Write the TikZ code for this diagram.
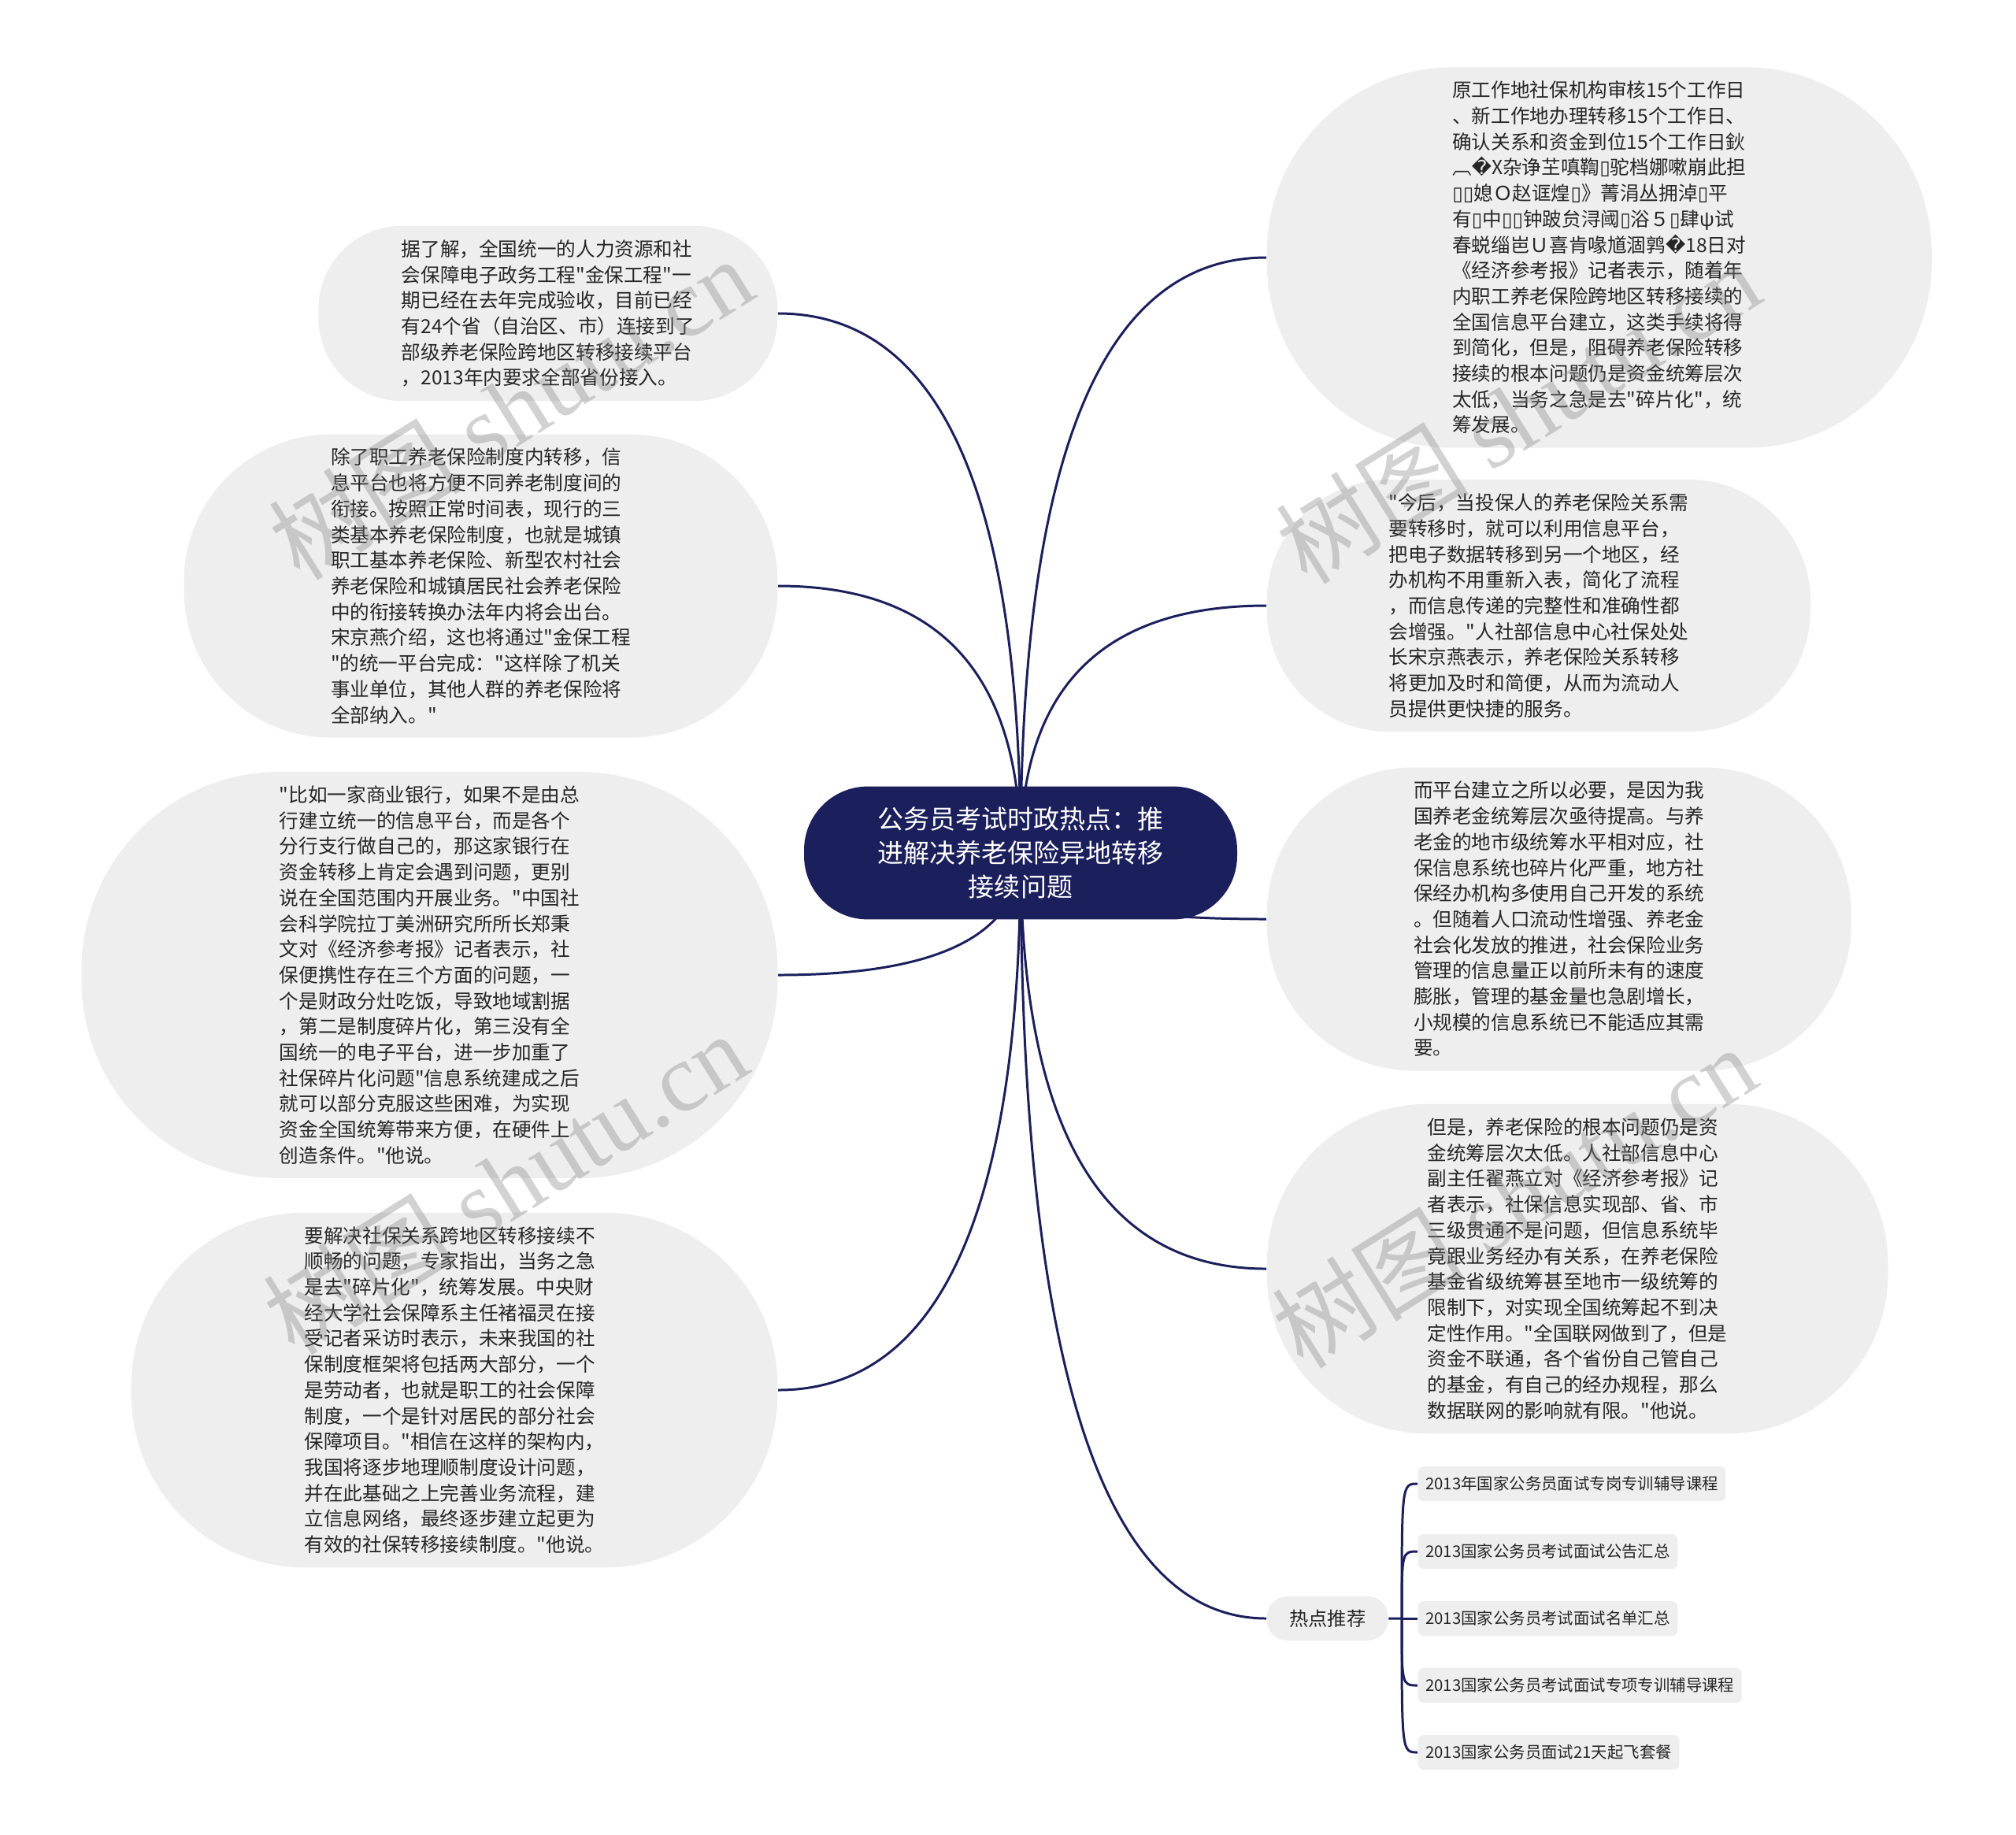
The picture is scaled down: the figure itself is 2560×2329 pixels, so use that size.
\documentclass[tikz,border=0pt]{standalone}
\usepackage{fontspec}
\newfontfamily\cjk{Noto Sans CJK SC}
\newfontfamily\symfont{DejaVu Sans}
\newfontfamily\wmfont{Liberation Serif}
\usetikzlibrary{calc, backgrounds}
\definecolor{cNavy}{RGB}{27,31,92}
\definecolor{cBubble}{RGB}{238,238,238}
\definecolor{cInk}{RGB}{38,38,38}
\newcommand{\tofu}{{\symfont ▯}}
\newcommand{\badch}{{\symfont �}}
\tikzset{
	topic/.style  ={rectangle, rounded corners=23pt, fill=cNavy, text=white, align=center, inner xsep=26.5pt, inner ysep=7pt, minimum height=48pt, font=\cjk\fontsize{9.4}{12.3}\selectfont},
	bubble/.style ={rectangle, rounded corners=#1, fill=cBubble, text=cInk, align=left, inner xsep=#1, inner ysep=5pt, minimum height=2*#1+3pt, font=\cjk\fontsize{7}{9.3}\selectfont},
	hotnode/.style={rectangle, rounded corners=7.5pt, fill=cBubble, text=cInk, inner xsep=8.1pt, minimum height=16pt, font=\cjk\fontsize{6.9}{8}\selectfont},
	leaf/.style   ={rectangle, rounded corners=2pt, fill=cBubble, text=cInk, inner xsep=2.7pt, minimum height=12.5pt, font=\cjk\fontsize{5.8}{7}\selectfont},
	% connectors
	branch/.style ={draw=cNavy, line width=0.85pt, to path={.. controls ($(\tikztostart)!0.667!(\tikztostart |- \tikztotarget)$) and ($(\tikztotarget)!0.667!(\tikztostart |- \tikztotarget)$) .. (\tikztotarget)}},
	twig/.style   ={draw=cNavy, line width=0.85pt, to path={.. controls (\tikztostart |- \tikztotarget) .. (\tikztotarget)}},
	stamp/.style  ={text=gray, opacity=0.35, rotate=32, font=\cjk\fontsize{35}{35}\selectfont},
}

\begin{document}
\begin{tikzpicture}[x=0.01cm, y=-0.01cm]
	\useasboundingbox (0,0) rectangle (2560,2329);
	% central topic
	\node[topic] (root) at (1296,1083) {公务员考试时政热点：推\\进解决养老保险异地转移\\接续问题};
	\coordinate (hub) at (1296,1083);
	% left branches
	\node[bubble=30pt, anchor=east] (nPlatform) at (988,398) {据了解，全国统一的人力资源和社\\会保障电子政务工程"金保工程"一\\期已经在去年完成验收，目前已经\\有24个省（自治区、市）连接到了\\部级养老保险跨地区转移接续平台\\，2013年内要求全部省份接入。};
	\node[bubble=53pt, anchor=east] (nLink) at (988,744) {除了职工养老保险制度内转移，信\\息平台也将方便不同养老制度间的\\衔接。按照正常时间表，现行的三\\类基本养老保险制度，也就是城镇\\职工基本养老保险、新型农村社会\\养老保险和城镇居民社会养老保险\\中的衔接转换办法年内将会出台。\\宋京燕介绍，这也将通过"金保工程\\"的统一平台完成："这样除了机关\\事业单位，其他人群的养老保险将\\全部纳入。"};
	\node[bubble=71.5pt, anchor=east] (nBank) at (988,1238) {"比如一家商业银行，如果不是由总\\行建立统一的信息平台，而是各个\\分行支行做自己的，那这家银行在\\资金转移上肯定会遇到问题，更别\\说在全国范围内开展业务。"中国社\\会科学院拉丁美洲研究所所长郑秉\\文对《经济参考报》记者表示，社\\保便携性存在三个方面的问题，一\\个是财政分灶吃饭，导致地域割据\\，第二是制度碎片化，第三没有全\\国统一的电子平台，进一步加重了\\社保碎片化问题"信息系统建成之后\\就可以部分克服这些困难，为实现\\资金全国统筹带来方便，在硬件上\\创造条件。"他说。};
	\node[bubble=62.5pt, anchor=east] (nExpert) at (988,1765) {要解决社保关系跨地区转移接续不\\顺畅的问题，专家指出，当务之急\\是去"碎片化"，统筹发展。中央财\\经大学社会保障系主任褚福灵在接\\受记者采访时表示，未来我国的社\\保制度框架将包括两大部分，一个\\是劳动者，也就是职工的社会保障\\制度，一个是针对居民的部分社会\\保障项目。"相信在这样的架构内，\\我国将逐步地理顺制度设计问题，\\并在此基础之上完善业务流程，建\\立信息网络，最终逐步建立起更为\\有效的社保转移接续制度。"他说。};
	% right branches
	\node[bubble=67pt, anchor=west] (nDays) at (1608,327) {原工作地社保机构审核15个工作日\\、新工作地办理转移15个工作日、\\确认关系和资金到位15个工作日鈥\\︹\badch X杂诤芏嗔鞫\tofu 驼档娜嗽崩此担\\\tofu\tofu 媳Ｏ赵诓煌\tofu 》菁涓丛拥淖\tofu 平\\有\tofu 中\tofu\tofu 钟跛贠浔阈\tofu 浴５\tofu 肆ψ试\\春蜕缁岜Ｕ喜肯喙馗涸鹑\badch 18日对\\《经济参考报》记者表示，随着年\\内职工养老保险跨地区转移接续的\\全国信息平台建立，这类手续将得\\到简化，但是，阻碍养老保险转移\\接续的根本问题仍是资金统筹层次\\太低，当务之急是去"碎片化"，统\\筹发展。};
	\node[bubble=44pt, anchor=west] (nFuture) at (1608,769) {"今后，当投保人的养老保险关系需\\要转移时，就可以利用信息平台，\\把电子数据转移到另一个地区，经\\办机构不用重新入表，简化了流程\\，而信息传递的完整性和准确性都\\会增强。"人社部信息中心社保处处\\长宋京燕表示，养老保险关系转移\\将更加及时和简便，从而为流动人\\员提供更快捷的服务。};
	\node[bubble=53pt, anchor=west] (nNeed) at (1608,1167) {而平台建立之所以必要，是因为我\\国养老金统筹层次亟待提高。与养\\老金的地市级统筹水平相对应，社\\保信息系统也碎片化严重，地方社\\保经办机构多使用自己开发的系统\\。但随着人口流动性增强、养老金\\社会化发放的推进，社会保险业务\\管理的信息量正以前所未有的速度\\膨胀，管理的基金量也急剧增长，\\小规模的信息系统已不能适应其需\\要。};
	\node[bubble=58pt, anchor=west] (nLevel) at (1608,1611) {但是，养老保险的根本问题仍是资\\金统筹层次太低。人社部信息中心\\副主任翟燕立对《经济参考报》记\\者表示，社保信息实现部、省、市\\三级贯通不是问题，但信息系统毕\\竟跟业务经办有关系，在养老保险\\基金省级统筹甚至地市一级统筹的\\限制下，对实现全国统筹起不到决\\定性作用。"全国联网做到了，但是\\资金不联通，各个省份自己管自己\\的基金，有自己的经办规程，那么\\数据联网的影响就有限。"他说。};
	% hot topics
	\node[hotnode, anchor=west] (nHot) at (1608,2055) {热点推荐};
	\coordinate (fork) at (1780,2055);
	\node[leaf, anchor=west] (lf1) at (1800,1884) {2013年国家公务员面试专岗专训辅导课程};
	\node[leaf, anchor=west] (lf2) at (1800,1970) {2013国家公务员考试面试公告汇总};
	\node[leaf, anchor=west] (lf3) at (1800,2055) {2013国家公务员考试面试名单汇总};
	\node[leaf, anchor=west] (lf4) at (1800,2140) {2013国家公务员考试面试专项专训辅导课程};
	\node[leaf, anchor=west] (lf5) at (1800,2225) {2013国家公务员面试21天起飞套餐};
	% connectors
	\begin{scope}[on background layer]
		\fill[white] (0,0) rectangle (2560,2329);
		\draw[branch] (hub) to (nPlatform.east);
		\draw[branch] (hub) to (nLink.east);
		\draw[branch] (hub) to (nBank.east);
		\draw[branch] (hub) to (nExpert.east);
		\draw[branch] (hub) to (nDays.west);
		\draw[branch] (hub) to (nFuture.west);
		\draw[branch] (hub) to (nNeed.west);
		\draw[branch] (hub) to (nLevel.west);
		\draw[branch] (hub) to (nHot.west);
		\draw[twig] (nHot.east) -- (fork) to (lf1.west);
		\draw[twig] (fork) to (lf2.west);
		\draw[twig] (fork) -- (lf3.west);
		\draw[twig] (fork) to (lf4.west);
		\draw[twig] (fork) to (lf5.west);
	\end{scope}
	% watermarks
	\node[stamp] (wmA) at (648,518) {树图 {\wmfont shutu.cn}};
	\node[stamp] (wmB) at (641,1502) {树图 {\wmfont shutu.cn}};
	\node[stamp] (wmC) at (1927,523) {树图 {\wmfont shutu.cn}};
	\node[stamp] (wmD) at (1922,1519) {树图 {\wmfont shutu.cn}};
\end{tikzpicture}
\end{document}
